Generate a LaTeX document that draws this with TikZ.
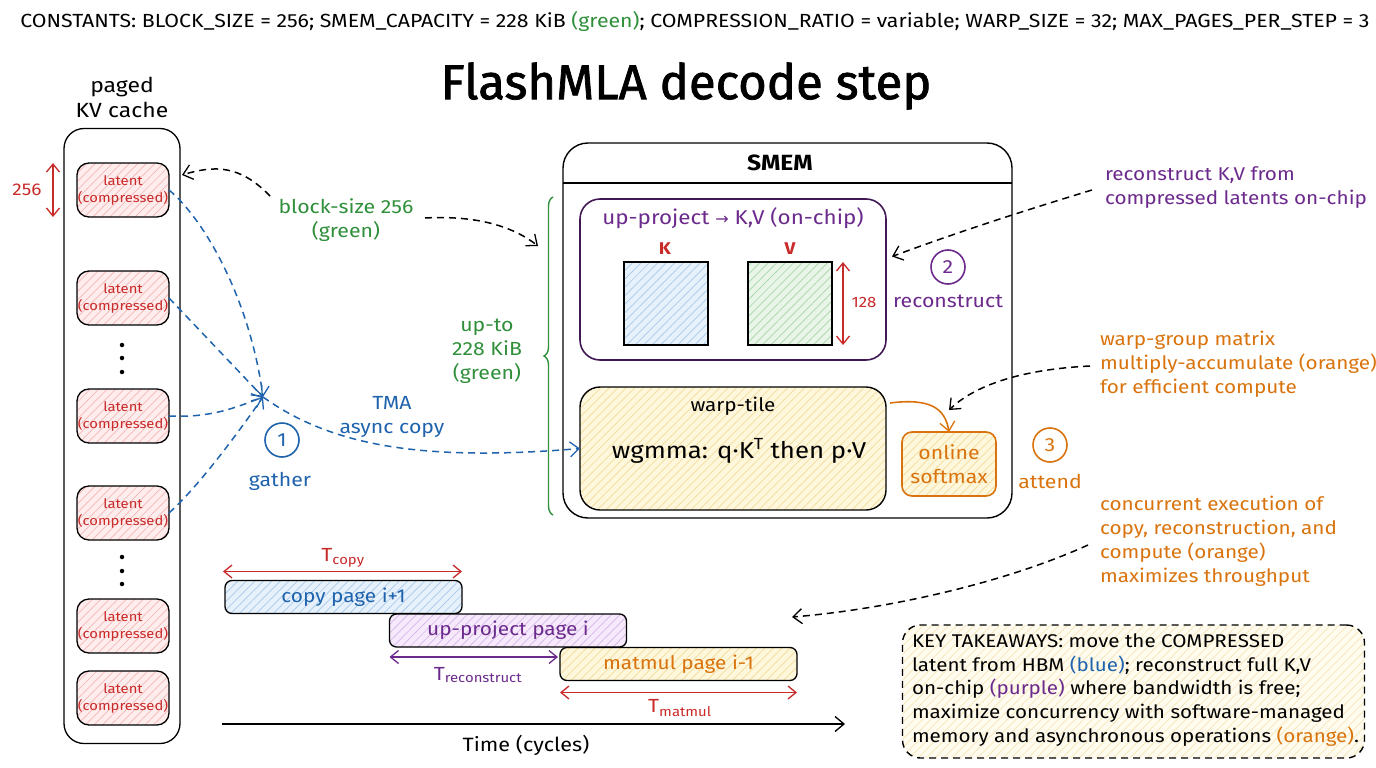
\documentclass[tikz,border=0pt]{standalone}
\usepackage{fontspec}
\setmainfont{Fira Sans}[FakeStretch=1.12]
\newfontfamily\titlef{Fira Sans}[FakeBold=1.5]
\newfontfamily\symf{DejaVu Sans}
\usetikzlibrary{arrows.meta,patterns.meta,decorations.pathreplacing,calc}
\definecolor{cred}{HTML}{C92A2A}
\definecolor{cblue}{HTML}{1F63AD}
\definecolor{cgreen}{HTML}{2F8F3A}
\definecolor{cpurple}{HTML}{6B2A8C}
\definecolor{corange}{HTML}{D9730D}
\definecolor{fred}{HTML}{FFEDED}
\definecolor{lred}{HTML}{F2B8B8}
\definecolor{fblue}{HTML}{E6F1FB}
\definecolor{lblue}{HTML}{A9C9EA}
\definecolor{fgreen}{HTML}{E8F5E8}
\definecolor{lgreen}{HTML}{A8D6A8}
\definecolor{fpurple}{HTML}{F5E9FB}
\definecolor{lpurple}{HTML}{D6B6EA}
\definecolor{fyellow}{HTML}{FFF7DC}
\definecolor{lyellow}{HTML}{F0DC9A}
\definecolor{fkt}{HTML}{FFFBEE}
\definecolor{lkt}{HTML}{F5E6B8}
\newcommand\fsz[2]{\fontsize{#1}{#2}\selectfont}
\tikzset{
  every node/.style={inner sep=0pt, outer sep=0pt},
  tip/.style={-{Straight Barb[length=9pt,width=15pt,line width=1.3pt]}},
  dtip/.style={{Straight Barb[length=8pt,width=13pt,line width=1.3pt]}-{Straight Barb[length=8pt,width=13pt,line width=1.3pt]}},
  dsh/.style={dash pattern=on 7pt off 5pt, line width=1.5pt},
  hatch/.style 2 args={preaction={fill=#1}, pattern={Lines[angle=45,distance=6pt,line width=0.7pt]}, pattern color=#2},
  latent/.style={draw=black, line width=1.3pt, rounded corners=12pt, minimum width=92pt, minimum height=54pt, hatch={fred}{lred}, text=cred, font=\fsz{13.2}{17}, align=center},
  bar/.style={draw=black, line width=1.3pt, rounded corners=7pt, minimum width=237pt, minimum height=33pt, font=\fsz{18.6}{20}},
  numc/.style={circle, draw=#1, text=#1, line width=1.6pt, minimum size=34pt, font=\fsz{19}{20}},
  lbl/.style={font=\fsz{19}{24}, align=center},
  dot/.style={circle, fill=black, minimum size=4.5pt}
}
\begin{document}
\begin{tikzpicture}[x=1pt,y=-1pt]
\useasboundingbox (0,0) rectangle (1376,768);
% header
\node[font=\fsz{19}{22}] (const) at (695,21) {CONSTANTS: BLOCK\_SIZE = 256; SMEM\_CAPACITY = 228 KiB \textcolor{cgreen}{(green)}; COMPRESSION\_RATIO = variable; WARP\_SIZE = 32; MAX\_PAGES\_PER\_STEP = 3};
\node[font=\titlef\fsz{49}{50}] (title) at (686,86) {FlashMLA decode step};
% paged KV cache
\node[lbl, font=\fsz{20.5}{25}] (kvlab) at (122,97) {paged\\KV cache};
\node[draw, line width=1.3pt, rounded corners=20pt, minimum width=116pt, minimum height=615pt] (col) at (122,436) {};
\node[latent] (b1) at (123,190) {latent\\(compressed)};
\node[latent] (b2) at (123,298) {latent\\(compressed)};
\node[latent] (b3) at (123,416) {latent\\(compressed)};
\node[latent] (b4) at (123,513) {latent\\(compressed)};
\node[latent] (b5) at (123,626) {latent\\(compressed)};
\node[latent] (b6) at (123,698) {latent\\(compressed)};
\node[dot] (d1) at (122,345) {};
\node[dot] (d2) at (122,358) {};
\node[dot] (d3) at (122,372) {};
\node[dot] (d4) at (122,557) {};
\node[dot] (d5) at (122,571) {};
\node[dot] (d6) at (122,584) {};
\coordinate (h1) at (53,163);
\coordinate (h2) at (53,217);
\draw[cred, line width=1.5pt, dtip] (h1) -- (h2);
\node[text=cred, font=\fsz{17}{18}] (l256) at (27,190) {256};
% gather
\coordinate (G) at (263,397);
\draw[cblue, dsh, tip] (b1.east) .. controls (205,220) and (250,300) .. (G);
\draw[cblue, dsh, tip] (b2.east) -- (G);
\draw[cblue, dsh, tip] (b3.east) .. controls (210,418) and (235,408) .. (G);
\draw[cblue, dsh, tip] (b4.east) .. controls (200,485) and (240,430) .. (G);
\node[numc=cblue] (c1) at (282,440) {1};
\node[lbl, text=cblue] (gath) at (280,481) {gather};
\node[lbl, text=cblue] (tma) at (392,417) {TMA\\async copy};
% block-size label
\node[lbl, text=cgreen] (bs) at (346,220) {block-size 256\\(green)};
\coordinate (bsl) at (270,196);
\coordinate (bsr) at (425,218);
\coordinate (colt) at (182,175);
\coordinate (brt) at (538,246);
\draw[dsh, tip] (bsl) .. controls (240,165) and (215,165) .. (colt);
\draw[dsh, tip] (bsr) .. controls (480,215) and (515,228) .. (brt);
% brace
\draw[cgreen, line width=1.4pt, decorate, decoration={brace, amplitude=9pt}] (553,515) -- (553,197);
\node[lbl, text=cgreen] (upto) at (487,351) {up-to\\228 KiB\\(green)};
% SMEM
\node[draw, line width=1.4pt, rounded corners=25pt, minimum width=449pt, minimum height=375pt] (smem) at (787.5,330.5) {};
\draw[line width=1.2pt] ($(smem.north west)+(0,40)$) -- ($(smem.north east)+(0,40)$);
\node[font=\bfseries\fsz{22}{22}] (smemt) at (780,163) {SMEM};
\node[draw=cpurple!60!black, line width=1.6pt, rounded corners=20pt, minimum width=306pt, minimum height=161pt] (up) at (733,279.5) {};
\node[text=cpurple, font=\fsz{20}{22}] (upt) at (733,218) {up-project {\symf\fsz{16}{20}→} K,V (on-chip)};
\node[draw, line width=1.3pt, hatch={fblue}{lblue}, minimum width=84pt, minimum height=83pt] (K) at (666,303.5) {};
\node[draw, line width=1.3pt, hatch={fgreen}{lgreen}, minimum width=84pt, minimum height=83pt] (V) at (790,303.5) {};
\node[text=cred, font=\bfseries\fsz{17}{20}] (Kl) at (665,249) {K};
\node[text=cred, font=\bfseries\fsz{17}{20}] (Vl) at (790,249) {V};
\coordinate (s1) at (843,262);
\coordinate (s2) at (843,345);
\draw[cred, line width=1.5pt, dtip] (s1) -- (s2);
\node[text=cred, font=\fsz{15}{18}] (l128) at (864,302) {128};
\node[numc=cpurple] (c2) at (948,267) {2};
\node[lbl, text=cpurple] (recon) at (948,301) {reconstruct};
\node[draw, line width=1.4pt, rounded corners=20pt, hatch={fyellow}{lyellow}, minimum width=306pt, minimum height=123pt] (wt) at (733,448.5) {};
\node[font=\fsz{18.5}{20}] (wtt) at (733,406) {warp-tile};
\node[font=\fsz{23}{24}] (wg) at (739,451) {wgmma: q·K\textsuperscript{T} then p·V};
\node[draw=corange, line width=1.6pt, rounded corners=10pt, hatch={fyellow}{lyellow}, minimum width=94pt, minimum height=64pt, text=corange, lbl] (sm) at (949,464) {online\\softmax};
\coordinate (wtr) at (890,403);
\draw[corange, line width=1.6pt, tip] (wtr) .. controls (930,398) and (945,408) .. (sm.north);
\draw[cblue, dsh, tip] (G) .. controls (330,445) and (420,462) .. (wt.west);
\node[numc=corange] (c3) at (1050,445) {3};
\node[lbl, text=corange] (att) at (1050,481) {attend};
% right annotations
\node[anchor=north west, align=left, text=cpurple, font=\fsz{18.5}{24}] (an1) at (1105,167) {reconstruct K,V from\\compressed latents on-chip};
\coordinate (a1s) at (1092,190);
\draw[dsh, tip] (a1s) .. controls (1010,215) and (950,235) .. ($(up.east)+(6,-23)$);
\node[anchor=north west, align=left, text=corange, font=\fsz{18.5}{24}] (an2) at (1100,331) {warp-group matrix\\multiply-accumulate (orange)\\for efficient compute};
\coordinate (a2s) at (1090,366);
\draw[dsh, tip] (a2s) .. controls (1010,370) and (970,390) .. ($(sm.north)+(0,-22)$);
\node[anchor=north west, align=left, text=corange, font=\fsz{18.5}{24}] (an3) at (1100,496) {concurrent execution of\\copy, reconstruction, and\\compute (orange)\\maximizes throughput};
\coordinate (a3s) at (1088,545);
\coordinate (a3e) at (792,617);
\draw[dsh, tip] (a3s) .. controls (1000,585) and (880,610) .. (a3e);
% timeline
\node[bar, hatch={fblue}{lblue}, text=cblue] (cp) at (343.5,597) {copy page i+1};
\node[bar, hatch={fpurple}{lpurple}, text=cpurple] (upb) at (508,630.5) {up-project page i};
\node[bar, hatch={fyellow}{lyellow}, text=corange] (mm) at (678.5,664) {matmul page i-1};
\draw[cred, line width=1.5pt, dtip] ($(cp.north west)+(-2,-9)$) -- ($(cp.north east)+(0,-9)$);
\node[text=cred, font=\fsz{19}{20}] (tcp) at (343,558) {T\textsubscript{copy}};
\draw[cpurple, line width=1.5pt, dtip] ($(upb.south west)+(0,10)$) -- ($(mm.west)+(-2,-7)$);
\node[text=cpurple, font=\fsz{19}{20}] (trc) at (478,675) {T\textsubscript{reconstruct}};
\draw[cred, line width=1.5pt, dtip] ($(mm.south west)+(0,12)$) -- ($(mm.south east)+(0,12)$);
\node[text=cred, font=\fsz{19}{20}] (tmm) at (680,708) {T\textsubscript{matmul}};
\coordinate (t0) at (222,724);
\coordinate (t1) at (845,724);
\draw[line width=1.6pt, tip] (t0) -- (t1);
\node[font=\fsz{19.3}{20}] (tl) at (526,745) {Time (cycles)};
% takeaways
\node[draw, dash pattern=on 7pt off 5pt, line width=1.4pt, rounded corners=18pt, hatch={fkt}{lkt}, minimum width=462pt, minimum height=133pt] (kt) at (1133.5,691.5) {};
\node[anchor=west, align=left, font=\fsz{18.4}{23.8}] (ktt) at (912,690) {KEY TAKEAWAYS: move the COMPRESSED\\latent from HBM \textcolor{cblue}{(blue)}; reconstruct full K,V\\on-chip \textcolor{cpurple}{(purple)} where bandwidth is free;\\maximize concurrency with software-managed\\memory and asynchronous operations \textcolor{corange}{(orange)}.};
\end{tikzpicture}
\end{document}
